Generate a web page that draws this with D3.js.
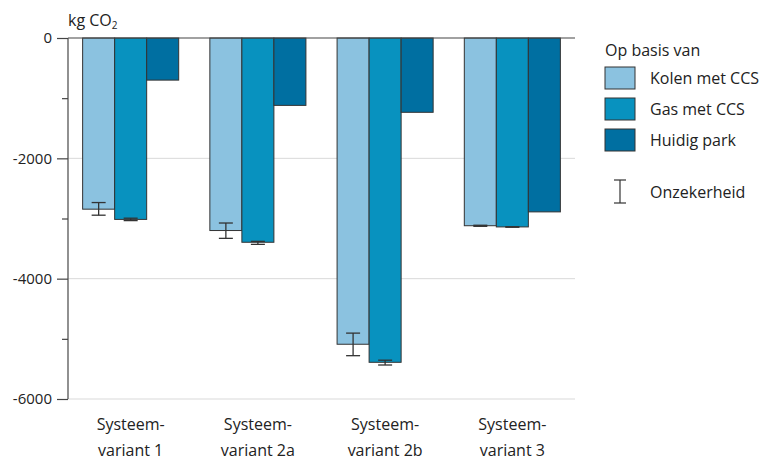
<!DOCTYPE html>
<html>
<head>
<meta charset="utf-8">
<script src="https://cdn.jsdelivr.net/npm/d3@7"></script>
<style>
  body { margin: 0; background: #fff; }
  svg text { font-family: "Open Sans", "Noto Sans", sans-serif; fill: #222; }
</style>
</head>
<body>
<svg id="chart" width="766" height="461"></svg>
<script>
// Categories (two-line labels) and series
const categories = ["Systeem-|variant 1", "Systeem-|variant 2a", "Systeem-|variant 2b", "Systeem-|variant 3"];
const seriesNames = ["Kolen met CCS", "Gas met CCS", "Huidig park"];
const seriesColors = ["#8bc2e0", "#0892bf", "#006fa1"];

// Emission reduction values (kg CO2), one array per series
const kolenValues = [-2845, -3200, -5090, -3120];
const gasValues = [-3015, -3395, -5390, -3140];
const huidigValues = [-700, -1120, -1235, -2890];

// Uncertainty ranges [low, high]; null where no range is given
const kolenRange = [[-2945, -2735], [-3330, -3075], [-5280, -4905], [-3130, -3112]];
const gasRange = [[-3035, -2995], [-3430, -3380], [-5435, -5355], [-3145, -3136]];
const huidigRange = [null, null, null, null];

const yTicks = [0, -1000, -2000, -3000, -4000, -5000, -6000];
const yLabelTicks = [0, -2000, -4000, -6000];

const seriesValues = [kolenValues, gasValues, huidigValues];
const seriesRanges = [kolenRange, gasRange, huidigRange];

const svg = d3.select("#chart");
const plot = { left: 68, right: 575, top: 38, bottom: 399 };

const y = d3.scaleLinear().domain([0, -6000]).range([plot.top, plot.bottom]);
const x0 = d3.scaleBand().domain(categories).range([plot.left, plot.right]).paddingInner(0.245).paddingOuter(0.115);
const x1 = d3.scaleBand().domain(seriesNames).range([0, x0.bandwidth()]);

// Gridlines
svg.append("g").selectAll("line")
  .data(yLabelTicks.filter(d => d !== 0))
  .join("line")
  .attr("x1", plot.left).attr("x2", plot.right)
  .attr("y1", d => y(d)).attr("y2", d => y(d))
  .attr("stroke", "#d9d9d9").attr("stroke-width", 1);

// Bars
const groups = svg.append("g").selectAll("g")
  .data(categories)
  .join("g")
  .attr("transform", d => `translate(${x0(d)},0)`);

seriesNames.forEach((s, si) => {
  groups.append("rect")
    .attr("x", x1(s))
    .attr("y", y(0))
    .attr("width", x1.bandwidth())
    .attr("height", (d, ci) => y(seriesValues[si][ci]) - y(0))
    .attr("fill", seriesColors[si])
    .attr("stroke", "#333")
    .attr("stroke-width", 1);
});

// Uncertainty bars
seriesNames.forEach((s, si) => {
  groups.each(function(d, ci) {
    const r = seriesRanges[si][ci];
    if (!r) return;
    const cx = x1(s) + x1.bandwidth() / 2;
    const g = d3.select(this).append("g").attr("stroke", "#333").attr("stroke-width", 1.3);
    g.append("line").attr("x1", cx).attr("x2", cx).attr("y1", y(r[0])).attr("y2", y(r[1]));
    [r[0], r[1]].forEach(v => {
      g.append("line").attr("x1", cx - 7).attr("x2", cx + 7).attr("y1", y(v)).attr("y2", y(v));
    });
  });
});

// Zero line
svg.append("line")
  .attr("x1", plot.left).attr("x2", plot.right)
  .attr("y1", y(0)).attr("y2", y(0))
  .attr("stroke", "#444").attr("stroke-width", 1.2);

// Y axis
const yAxis = d3.axisLeft(y)
  .tickValues(yTicks)
  .tickSize(10)
  .tickPadding(6)
  .tickFormat(d => yLabelTicks.includes(d) ? d3.format("d")(d).replace("−", "-") : "");
const ya = svg.append("g").attr("transform", `translate(${plot.left},0)`).call(yAxis);
ya.select(".domain").attr("stroke", "#555").attr("stroke-width", 1.3).attr("d", `M-0,${plot.top}V${plot.bottom}`);
ya.selectAll(".tick line").attr("stroke", "#444").attr("stroke-width", 1.2)
  .attr("x2", d => yLabelTicks.includes(d) ? -11 : -6);
ya.selectAll(".tick text").attr("font-size", 15).style("font-family", '"Open Sans", sans-serif').attr("fill", "#222");

// Y axis unit label
const unit = svg.append("text").attr("x", 68).attr("y", 26).attr("font-size", 16);
unit.append("tspan").text("kg CO");
unit.append("tspan").attr("font-size", 10).attr("dy", 3).text("2");

// Category labels
svg.append("g").selectAll("text")
  .data(categories)
  .join("text")
  .attr("text-anchor", "middle")
  .attr("font-size", 16)
  .each(function(d) {
    const parts = d.split("|");
    const cx = x0(d) + x0.bandwidth() / 2;
    d3.select(this).append("tspan").attr("x", cx).attr("y", 430).text(parts[0]);
    d3.select(this).append("tspan").attr("x", cx).attr("y", 456).text(parts[1]);
  });

// Legend
const legend = svg.append("g");
legend.append("text").attr("x", 605).attr("y", 56).attr("font-size", 16).text("Op basis van");
seriesNames.forEach((s, i) => {
  const yy = 67 + i * 31;
  legend.append("rect").attr("x", 605).attr("y", yy).attr("width", 30).attr("height", 22)
    .attr("fill", seriesColors[i]).attr("stroke", "#333").attr("stroke-width", 1);
  legend.append("text").attr("x", 650).attr("y", yy + 17).attr("font-size", 16).text(s);
});
const eg = legend.append("g").attr("stroke", "#333").attr("stroke-width", 1.2);
eg.append("line").attr("x1", 620).attr("x2", 620).attr("y1", 180).attr("y2", 203);
eg.append("line").attr("x1", 614).attr("x2", 626).attr("y1", 180).attr("y2", 180);
eg.append("line").attr("x1", 614).attr("x2", 626).attr("y1", 203).attr("y2", 203);
legend.append("text").attr("x", 650).attr("y", 198).attr("font-size", 16).text("Onzekerheid");
</script>
</body>
</html>
